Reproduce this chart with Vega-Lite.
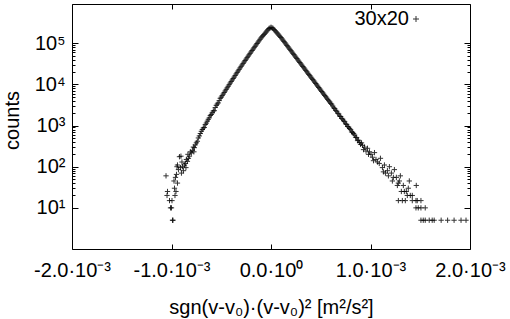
{
  "$schema": "https://vega.github.io/schema/vega-lite/v6.json",
  "width": 398,
  "height": 245,
  "autosize": {"type": "none"},
  "padding": {"left": 72, "top": 4, "right": 40, "bottom": 70},
  "background": "white",
  "config": {
    "view": {"stroke": "black", "strokeWidth": 1},
    "font": "Liberation Sans",
    "axis": {"grid": false, "domain": false, "tickColor": "black", "tickWidth": 1, "labelColor": "black", "labelFont": "Liberation Sans", "labelFontSize": 20, "titleFont": "Liberation Sans", "titleFontSize": 20, "titleFontWeight": "normal", "titleColor": "black"}
  },
  "data": {"values": [
    {"x": 0, "c": 245000},
    {"x": -0.00001, "c": 235000}, {"x": -0.00002, "c": 229000}, {"x": -0.00003, "c": 214000}, {"x": -0.00004, "c": 200000},
    {"x": -0.00005, "c": 187000}, {"x": -0.00006, "c": 175000}, {"x": -0.00007, "c": 164000}, {"x": -0.00008, "c": 153000},
    {"x": -0.00009, "c": 144000}, {"x": -0.0001, "c": 135000}, {"x": -0.00011, "c": 125000}, {"x": -0.00012, "c": 115000},
    {"x": -0.00013, "c": 106500}, {"x": -0.00014, "c": 98600}, {"x": -0.00015, "c": 91200}, {"x": -0.00016, "c": 84300},
    {"x": -0.00017, "c": 78000}, {"x": -0.00018, "c": 72100}, {"x": -0.00019, "c": 66700}, {"x": -0.0002, "c": 61700},
    {"x": -0.00021, "c": 56900}, {"x": -0.00022, "c": 52500}, {"x": -0.00023, "c": 48400}, {"x": -0.00024, "c": 44700},
    {"x": -0.00025, "c": 41200}, {"x": -0.00026, "c": 38000}, {"x": -0.00027, "c": 35100}, {"x": -0.00028, "c": 32400},
    {"x": -0.00029, "c": 29800}, {"x": -0.0003, "c": 27500}, {"x": -0.00031, "c": 25300}, {"x": -0.00032, "c": 23200},
    {"x": -0.00033, "c": 21300}, {"x": -0.00034, "c": 19600}, {"x": -0.00035, "c": 18000}, {"x": -0.00036, "c": 16500},
    {"x": -0.00037, "c": 15100}, {"x": -0.00038, "c": 13900}, {"x": -0.00039, "c": 12800}, {"x": -0.0004, "c": 11750},
    {"x": -0.00041, "c": 10800}, {"x": -0.00042, "c": 9860}, {"x": -0.00043, "c": 9030}, {"x": -0.00044, "c": 8280},
    {"x": -0.00045, "c": 7590}, {"x": -0.00046, "c": 6950}, {"x": -0.00047, "c": 6370}, {"x": -0.00048, "c": 5830},
    {"x": -0.00049, "c": 5340}, {"x": -0.0005, "c": 4900}, {"x": -0.00051, "c": 4600}, {"x": -0.00052, "c": 4040},
    {"x": -0.00053, "c": 3550}, {"x": -0.00054, "c": 3330}, {"x": -0.00055, "c": 3100}, {"x": -0.00056, "c": 2740},
    {"x": -0.00057, "c": 2300}, {"x": -0.00058, "c": 2260}, {"x": -0.00059, "c": 2050}, {"x": -0.0006, "c": 1860},
    {"x": -0.00061, "c": 1750}, {"x": -0.00062, "c": 1540}, {"x": -0.00063, "c": 1420}, {"x": -0.00064, "c": 1280},
    {"x": -0.00065, "c": 1150}, {"x": -0.00066, "c": 1060}, {"x": -0.00067, "c": 900}, {"x": -0.00068, "c": 875},
    {"x": -0.00069, "c": 800}, {"x": -0.0007, "c": 725}, {"x": -0.00071, "c": 640}, {"x": -0.00072, "c": 560},
    {"x": -0.00073, "c": 500}, {"x": -0.00074, "c": 415}, {"x": -0.00075, "c": 380}, {"x": -0.00076, "c": 340},
    {"x": -0.00077, "c": 290}, {"x": -0.000775, "c": 230}, {"x": -0.00078, "c": 300}, {"x": -0.00079, "c": 250},
    {"x": -0.0008, "c": 215}, {"x": -0.00081, "c": 230}, {"x": -0.00082, "c": 180}, {"x": -0.00083, "c": 160},
    {"x": -0.000835, "c": 200}, {"x": -0.00084, "c": 135}, {"x": -0.00085, "c": 150}, {"x": -0.000855, "c": 95},
    {"x": -0.00086, "c": 120}, {"x": -0.00087, "c": 110}, {"x": -0.00088, "c": 80}, {"x": -0.00089, "c": 100},
    {"x": -0.000895, "c": 130}, {"x": -0.0009, "c": 70}, {"x": -0.000905, "c": 180}, {"x": -0.00091, "c": 95},
    {"x": -0.00092, "c": 175}, {"x": -0.00093, "c": 85}, {"x": -0.00094, "c": 110}, {"x": -0.000945, "c": 100},
    {"x": -0.00095, "c": 65}, {"x": -0.000955, "c": 25}, {"x": -0.00096, "c": 55}, {"x": -0.00094, "c": 40},
    {"x": -0.00097, "c": 30}, {"x": -0.000975, "c": 45}, {"x": -0.001055, "c": 60}, {"x": -0.00104, "c": 25},
    {"x": -0.001045, "c": 20}, {"x": -0.00102, "c": 15}, {"x": -0.001, "c": 10}, {"x": -0.00101, "c": 10},
    {"x": -0.00099, "c": 5}, {"x": -0.000985, "c": 5}, {"x": -0.000995, "c": 15}, {"x": -0.000965, "c": 20},
    {"x": 0.00001, "c": 237000}, {"x": 0.00002, "c": 231000}, {"x": 0.00003, "c": 216000}, {"x": 0.00004, "c": 203000},
    {"x": 0.00005, "c": 190000}, {"x": 0.00006, "c": 179000}, {"x": 0.00007, "c": 168000}, {"x": 0.00008, "c": 157000},
    {"x": 0.00009, "c": 147000}, {"x": 0.0001, "c": 138000}, {"x": 0.00011, "c": 128000}, {"x": 0.00012, "c": 119000},
    {"x": 0.00013, "c": 111000}, {"x": 0.00014, "c": 103000}, {"x": 0.00015, "c": 95600}, {"x": 0.00016, "c": 88700},
    {"x": 0.00017, "c": 82400}, {"x": 0.00018, "c": 76600}, {"x": 0.00019, "c": 71200}, {"x": 0.0002, "c": 66100},
    {"x": 0.00021, "c": 61400}, {"x": 0.00022, "c": 57000}, {"x": 0.00023, "c": 53000}, {"x": 0.00024, "c": 49200},
    {"x": 0.00025, "c": 45700}, {"x": 0.00026, "c": 42500}, {"x": 0.00027, "c": 39400}, {"x": 0.00028, "c": 36600},
    {"x": 0.00029, "c": 34000}, {"x": 0.0003, "c": 31600}, {"x": 0.00031, "c": 29400}, {"x": 0.00032, "c": 27300},
    {"x": 0.00033, "c": 25400}, {"x": 0.00034, "c": 23600}, {"x": 0.00035, "c": 21900}, {"x": 0.00036, "c": 20300},
    {"x": 0.00037, "c": 18800}, {"x": 0.00038, "c": 17500}, {"x": 0.00039, "c": 16300}, {"x": 0.0004, "c": 15100},
    {"x": 0.00041, "c": 14100}, {"x": 0.00042, "c": 13100}, {"x": 0.00043, "c": 12200}, {"x": 0.00044, "c": 11300},
    {"x": 0.00045, "c": 10500}, {"x": 0.00046, "c": 9730}, {"x": 0.00047, "c": 9040}, {"x": 0.00048, "c": 8400},
    {"x": 0.00049, "c": 7800}, {"x": 0.0005, "c": 7240}, {"x": 0.00051, "c": 6730}, {"x": 0.00052, "c": 6250},
    {"x": 0.00053, "c": 5800}, {"x": 0.00054, "c": 5400}, {"x": 0.00055, "c": 5020}, {"x": 0.00056, "c": 4660},
    {"x": 0.00057, "c": 4330}, {"x": 0.00058, "c": 4020}, {"x": 0.00059, "c": 3740}, {"x": 0.0006, "c": 3470},
    {"x": 0.00061, "c": 3300}, {"x": 0.00062, "c": 2990}, {"x": 0.00063, "c": 2700}, {"x": 0.00064, "c": 2580},
    {"x": 0.00065, "c": 2350}, {"x": 0.00066, "c": 2230}, {"x": 0.00067, "c": 2000}, {"x": 0.00068, "c": 1920},
    {"x": 0.00069, "c": 1700}, {"x": 0.0007, "c": 1660}, {"x": 0.00071, "c": 1500}, {"x": 0.00072, "c": 1430},
    {"x": 0.00073, "c": 1300}, {"x": 0.00074, "c": 1240}, {"x": 0.00075, "c": 1100}, {"x": 0.00076, "c": 1070},
    {"x": 0.00077, "c": 950}, {"x": 0.00078, "c": 920}, {"x": 0.00079, "c": 850}, {"x": 0.0008, "c": 795},
    {"x": 0.00081, "c": 700}, {"x": 0.00082, "c": 685}, {"x": 0.00083, "c": 640}, {"x": 0.00084, "c": 590},
    {"x": 0.00085, "c": 520}, {"x": 0.00086, "c": 510}, {"x": 0.00087, "c": 430}, {"x": 0.00088, "c": 440},
    {"x": 0.00089, "c": 390}, {"x": 0.0009, "c": 350}, {"x": 0.00091, "c": 380}, {"x": 0.00092, "c": 330},
    {"x": 0.00093, "c": 260}, {"x": 0.00094, "c": 300}, {"x": 0.000955, "c": 240}, {"x": 0.00097, "c": 280},
    {"x": 0.00098, "c": 200}, {"x": 0.00099, "c": 230}, {"x": 0.001005, "c": 200}, {"x": 0.00102, "c": 170},
    {"x": 0.00103, "c": 140}, {"x": 0.00104, "c": 220}, {"x": 0.001055, "c": 150}, {"x": 0.00107, "c": 130},
    {"x": 0.001088, "c": 120}, {"x": 0.0011, "c": 160}, {"x": 0.00112, "c": 95}, {"x": 0.00113, "c": 75},
    {"x": 0.00114, "c": 110}, {"x": 0.00115, "c": 70}, {"x": 0.00117, "c": 80}, {"x": 0.00118, "c": 60},
    {"x": 0.00119, "c": 100}, {"x": 0.00121, "c": 70}, {"x": 0.00122, "c": 45}, {"x": 0.00123, "c": 55},
    {"x": 0.00124, "c": 85}, {"x": 0.00126, "c": 55}, {"x": 0.00127, "c": 35}, {"x": 0.00128, "c": 40},
    {"x": 0.00129, "c": 45}, {"x": 0.0013, "c": 60}, {"x": 0.00131, "c": 25}, {"x": 0.00133, "c": 35},
    {"x": 0.00134, "c": 25}, {"x": 0.00136, "c": 25}, {"x": 0.00137, "c": 20}, {"x": 0.00138, "c": 30},
    {"x": 0.00139, "c": 45}, {"x": 0.0014, "c": 20}, {"x": 0.00142, "c": 20}, {"x": 0.00146, "c": 35},
    {"x": 0.00128, "c": 15}, {"x": 0.00132, "c": 15}, {"x": 0.00135, "c": 15}, {"x": 0.00142, "c": 15},
    {"x": 0.001457, "c": 15}, {"x": 0.00147, "c": 15}, {"x": 0.001507, "c": 15},
    {"x": 0.001457, "c": 10}, {"x": 0.00148, "c": 10}, {"x": 0.001507, "c": 10}, {"x": 0.00155, "c": 10},
    {"x": 0.001507, "c": 5}, {"x": 0.00153, "c": 5}, {"x": 0.00155, "c": 5}, {"x": 0.00159, "c": 5},
    {"x": 0.00162, "c": 5}, {"x": 0.00164, "c": 5}, {"x": 0.00171, "c": 5}, {"x": 0.001775, "c": 5},
    {"x": 0.00184, "c": 5}, {"x": 0.00191, "c": 5}, {"x": 0.00196, "c": 5}
  ]},
  "resolve": {"axis": {"x": "independent", "y": "independent"}},
  "layer": [
    {
      "mark": {"type": "point", "shape": "M-1,0L1,0M0,-1L0,1", "filled": false, "size": 28, "strokeWidth": 1, "opacity": 0.8},
      "encoding": {
        "x": {"field": "x", "type": "quantitative",
              "scale": {"domain": [-0.002, 0.002], "nice": false, "zero": false},
              "axis": {"orient": "bottom", "values": [-0.002, -0.001, 0, 0.001, 0.002], "tickSize": -5, "labelPadding": 16,
                       "labelExpr": "datum.value == 0 ? '0.0·10⁰' : (datum.value < 0 ? '-' : '') + format(abs(datum.value)*1000, '.1f') + '·10⁻³'",
                       "labelFlush": false, "labelOverlap": false,
                       "title": "sgn(v-v₀)·(v-v₀)² [m²/s²]", "titleX": 199, "titleY": 64, "titleBaseline": "alphabetic"}},
        "y": {"field": "c", "type": "quantitative",
              "scale": {"type": "log", "domain": [1, 900000], "nice": false},
              "axis": {"orient": "left",
                       "values": [10, 20, 30, 40, 50, 60, 70, 80, 90, 100, 200, 300, 400, 500, 600, 700, 800, 900, 1000, 2000, 3000, 4000, 5000, 6000, 7000, 8000, 9000, 10000, 20000, 30000, 40000, 50000, 60000, 70000, 80000, 90000, 100000],
                       "labelExpr": "datum.value == 10 ? '10¹' : datum.value == 100 ? '10²' : datum.value == 1000 ? '10³' : datum.value == 10000 ? '10⁴' : datum.value == 100000 ? '10⁵' : ''",
                       "tickSize": {"condition": {"test": "indexof([10, 100, 1000, 10000, 100000], datum.value) >= 0", "value": -6}, "value": -3},
                       "labelPadding": 13, "labelFlush": false, "labelOverlap": false,
                       "title": "counts", "titleX": -60, "titleY": 116, "titleAngle": -90, "titleBaseline": "middle", "titleAlign": "center"}},
        "color": {"datum": "30x20", "scale": {"range": ["black"]},
                  "legend": {"orient": "none", "legendX": 334, "legendY": 5, "title": null, "padding": 0,
                             "labelFont": "Liberation Sans", "labelFontSize": 20, "labelColor": "black",
                             "symbolType": "M-1,0L1,0M0,-1L0,1", "symbolSize": 36, "symbolStrokeWidth": 1,
                             "labelAlign": "right", "labelOffset": -17}}
      }
    },
    {
      "mark": {"type": "point", "opacity": 0},
      "encoding": {
        "x": {"field": "x", "type": "quantitative",
              "axis": {"orient": "top", "values": [-0.002, -0.001, 0, 0.001, 0.002], "tickSize": -5, "labels": false, "title": null}},
        "y": {"field": "c", "type": "quantitative",
              "axis": {"orient": "right",
                       "values": [10, 20, 30, 40, 50, 60, 70, 80, 90, 100, 200, 300, 400, 500, 600, 700, 800, 900, 1000, 2000, 3000, 4000, 5000, 6000, 7000, 8000, 9000, 10000, 20000, 30000, 40000, 50000, 60000, 70000, 80000, 90000, 100000],
                       "tickSize": {"condition": {"test": "indexof([10, 100, 1000, 10000, 100000], datum.value) >= 0", "value": -6}, "value": -3},
                       "labels": false, "title": null}}
      }
    }
  ]
}
